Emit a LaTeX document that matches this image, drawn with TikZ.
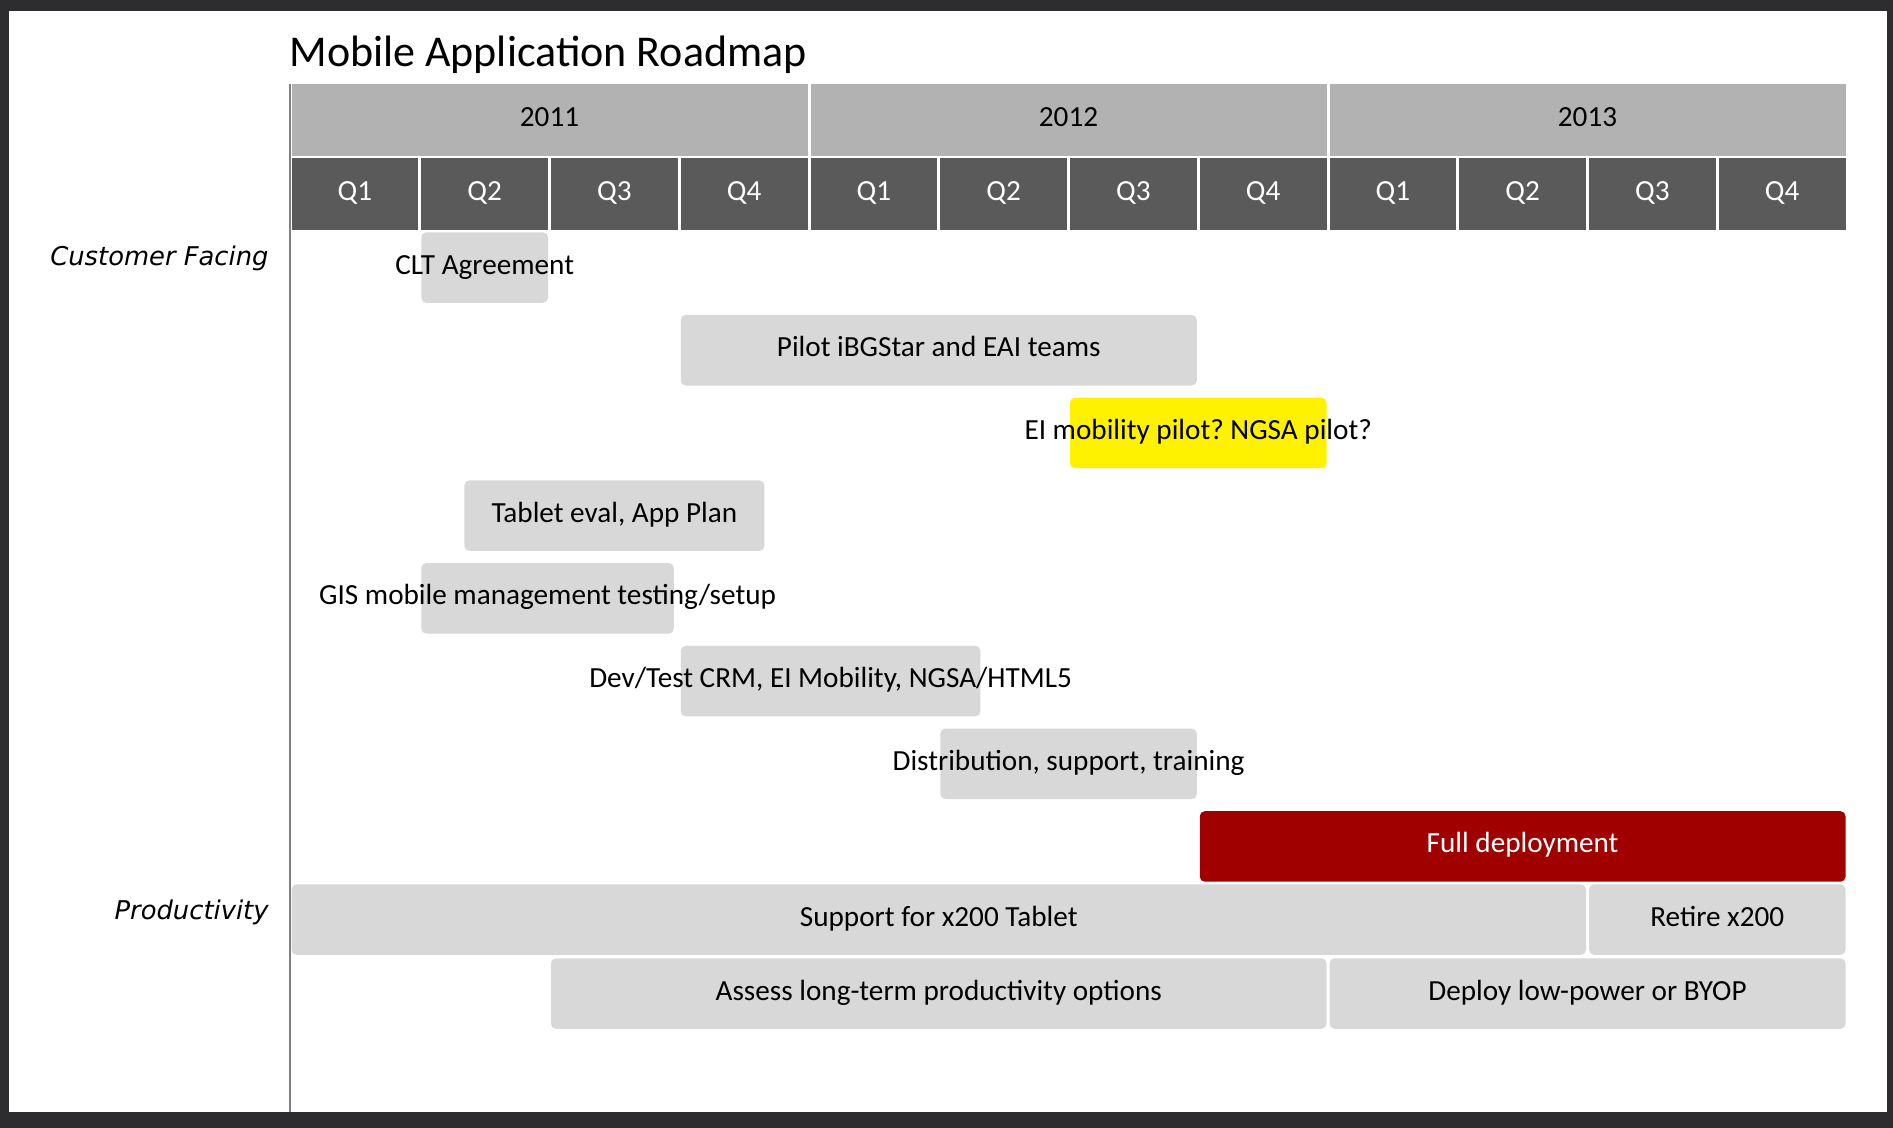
\documentclass[tikz,border=0pt]{standalone}
\usepackage{fontspec}
\setmainfont{Carlito}
\newfontfamily\labelfont{DejaVu Sans}
\frenchspacing
\definecolor{framecol}{RGB}{45,45,48}
\definecolor{yearcol}{RGB}{178,178,178}
\definecolor{qcol}{RGB}{90,90,90}
\definecolor{boxcol}{RGB}{216,216,216}
\definecolor{redcol}{RGB}{160,0,0}
\definecolor{axiscol}{RGB}{128,128,128}
\tikzset{
  cell/.style={rectangle, inner sep=0pt, outer sep=0pt, text height=0.8em, text depth=0.15em, font=\fontsize{14.6}{17}\selectfont},
  yearcell/.style={cell, fill=yearcol, text=black},
  qcell/.style={cell, fill=qcol, text=white},
  barbox/.style={cell, rounded corners=2.5pt, fill=boxcol, text=black},
  hibox/.style={barbox, fill=yellow},
  redbox/.style={barbox, fill=redcol, text=white},
  rowlabel/.style={font=\labelfont\fontsize{12.9}{16}\selectfont\itshape, anchor=base east, inner sep=0pt},
  titlestyle/.style={font=\fontsize{22}{26}\selectfont, anchor=base west, inner sep=0pt},
}
\newcommand\rmcell[7]{%
  \pgfmathsetmacro\rmxa{290+129.75*(#2)+1.5}%
  \pgfmathsetmacro\rmxb{290+129.75*(#3)-1.5}%
  \pgfmathsetmacro\rmw{(\rmxb-\rmxa)*0.5}%
  \pgfmathsetmacro\rmh{(#5)*0.5}%
  \pgfmathsetmacro\rmcx{(\rmxa+\rmxb)/2}%
  \pgfmathsetmacro\rmcy{#4+(#5)/2}%
  \node[#6, minimum width=\rmw pt, minimum height=\rmh pt] (#1) at (\rmcx,\rmcy) {\makebox[0pt]{#7}};%
}
\begin{document}
\begin{tikzpicture}[x=0.5pt, y=-0.5pt]
\fill[framecol] (0,0) rectangle (1893,1128);
\fill[white] (9,11) rectangle (1887,1112);
\useasboundingbox (0,0) rectangle (1893,1128);
% axis
\coordinate (axtop) at (290,84.5);
\coordinate (axbot) at (290,1112);
\draw[axiscol, line width=0.7pt] (axtop) -- (axbot);
% title
\node[titlestyle] (title) at (289,66.5) {Mobile Application Roadmap};
% years
\rmcell{y2011}{0}{4}{84.5}{71.5}{yearcell}{2011}
\rmcell{y2012}{4}{8}{84.5}{71.5}{yearcell}{2012}
\rmcell{y2013}{8}{12}{84.5}{71.5}{yearcell}{2013}
% quarters
\foreach \k/\lab in {0/Q1,1/Q2,2/Q3,3/Q4,4/Q1,5/Q2,6/Q3,7/Q4,8/Q1,9/Q2,10/Q3,11/Q4}{
  \pgfmathsetmacro\kk{\k+1}
  \rmcell{q\k}{\k}{\kk}{158.5}{71.5}{qcell}{\lab}
}
% row labels
\node[rowlabel] (cf) at (269,266) {Customer Facing};
\node[rowlabel] (prod) at (269,919) {Productivity};
% bars
\rmcell{clt}{1}{2}{232.3}{70.5}{barbox}{CLT Agreement}
\rmcell{pilot}{3}{7}{315}{70.5}{barbox}{Pilot iBGStar and EAI teams}
\rmcell{ei}{6}{8}{397.7}{70.5}{hibox}{EI mobility pilot? NGSA pilot?}
\rmcell{tablet}{1.333}{3.667}{480.4}{70.5}{barbox}{Tablet eval, App Plan}
\rmcell{gis}{1}{2.97}{563.1}{70.5}{barbox}{GIS mobile management testing/setup}
\rmcell{dev}{3}{5.333}{645.8}{70.5}{barbox}{Dev/Test CRM, EI Mobility, NGSA/HTML5}
\rmcell{dist}{5}{7}{728.5}{70.5}{barbox}{Distribution, support, training}
\rmcell{full}{7}{12}{811.2}{70.5}{redbox}{Full deployment}
\rmcell{support}{0}{10}{884.3}{70.5}{barbox}{Support for x200 Tablet}
\rmcell{retire}{10}{12}{884.3}{70.5}{barbox}{Retire x200}
\rmcell{assess}{2}{8}{958.3}{70.5}{barbox}{Assess long-term productivity options}
\rmcell{deploy}{8}{12}{958.3}{70.5}{barbox}{Deploy low-power or BYOP}
\end{tikzpicture}
\end{document}
